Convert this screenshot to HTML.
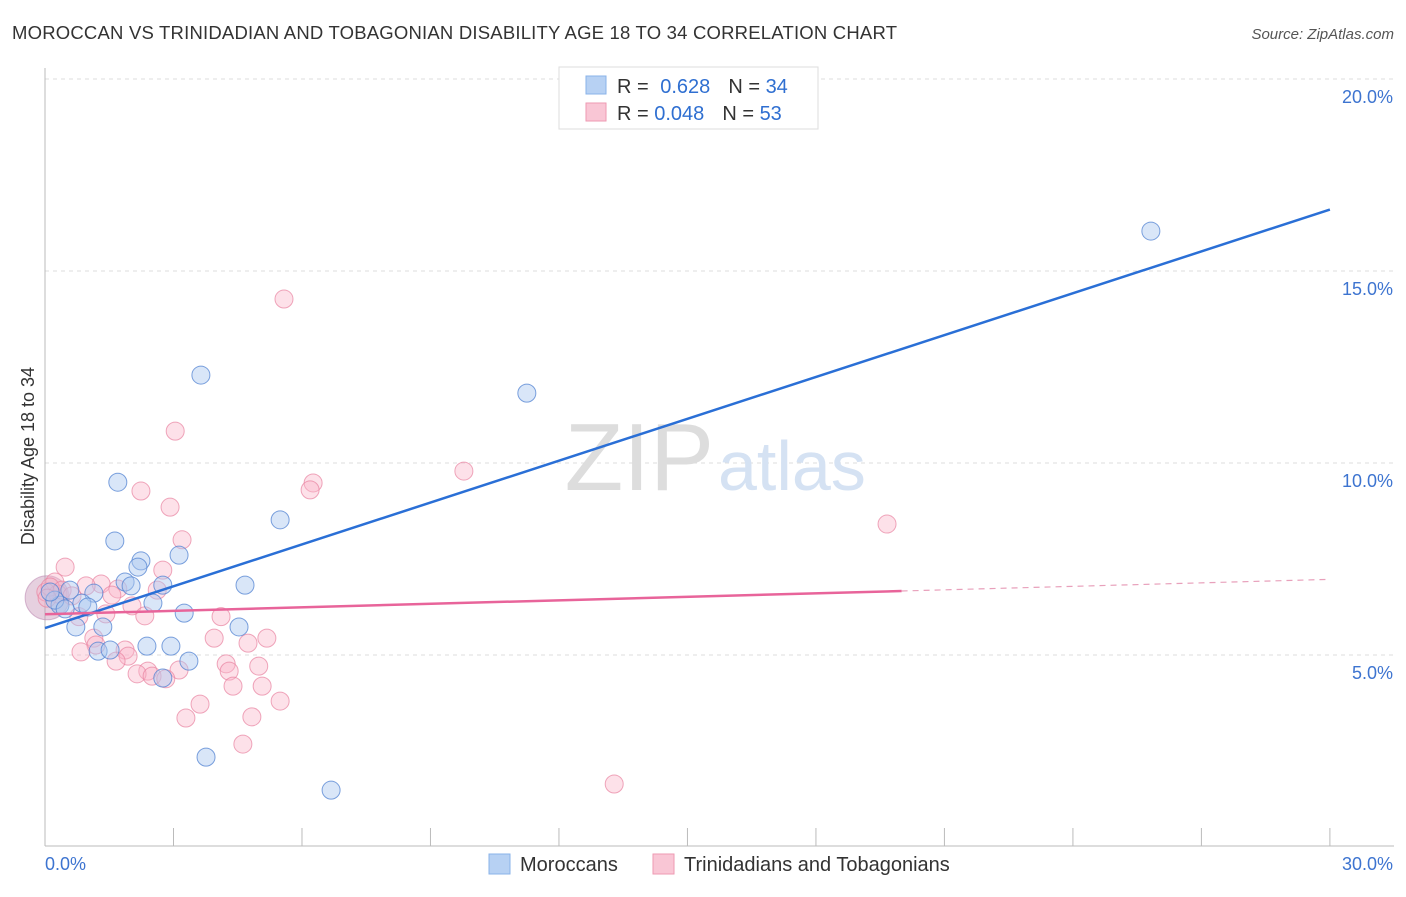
<!DOCTYPE html>
<html><head><meta charset="utf-8"><style>
body{margin:0;background:#fff;font-family:"Liberation Sans",sans-serif}
svg text{font-family:"Liberation Sans",sans-serif}
</style></head><body>
<svg id="chart" width="1406" height="892">
<text x="12" y="39" font-size="18.5" fill="#333" textLength="885">MOROCCAN VS TRINIDADIAN AND TOBAGONIAN DISABILITY AGE 18 TO 34 CORRELATION CHART</text>
<text x="1394" y="39" font-size="15" fill="#555" font-style="italic" text-anchor="end">Source: ZipAtlas.com</text>
<g id="grid"></g>
<text x="714" y="490" font-size="96" fill="#ddd" text-anchor="end" font-family="Liberation Serif">ZIP</text>
<text x="718" y="490" font-size="70" fill="#d5e2f3">atlas</text>
<line x1="45" y1="68" x2="45" y2="846" stroke="#bbb"/>
<line x1="45" y1="846" x2="1394" y2="846" stroke="#bbb"/>
<text transform="translate(34,456) rotate(-90)" font-size="18" fill="#333" text-anchor="middle">Disability Age 18 to 34</text>
<g id="marks"></g>
<g>
<rect x="559" y="67" width="259" height="62" fill="#fff" stroke="#ddd"/>
<rect x="586" y="76" width="20" height="18" fill="#b7d1f3" stroke="#8ab3e8"/>
<rect x="586" y="103" width="20" height="18" fill="#f9c6d5" stroke="#ee9ab2"/>
<text x="617" y="93" font-size="20" fill="#333">R = <tspan fill="#2f6fd1" dx="6">0.628</tspan><tspan dx="18" fill="#333">N = </tspan><tspan fill="#2f6fd1">34</tspan></text>
<text x="617" y="120" font-size="20" fill="#333">R = <tspan fill="#2f6fd1">0.048</tspan><tspan dx="18" fill="#333">N = </tspan><tspan fill="#2f6fd1">53</tspan></text>
</g>
<g>
<rect x="489" y="854" width="21" height="20" fill="#b7d1f3" stroke="#8ab3e8"/>
<text x="520" y="871" font-size="20" fill="#333">Moroccans</text>
<rect x="653" y="854" width="21" height="20" fill="#f9c6d5" stroke="#ee9ab2"/>
<text x="684" y="871" font-size="20" fill="#333">Trinidadians and Tobagonians</text>
</g>
</svg>
<script>
const yTicks=[5,10,15,20];
const yTickLabels=["5.0%","10.0%","15.0%","20.0%"];
const xTickLabels=["0.0%","30.0%"];
const blueX=[25.82,3.64,11.25,1.7,5.49,1.63,2.24,3.13,2.17,1.87,2.75,2.01,4.67,0.58,1.14,2.52,0.86,0.35,1.0,3.25,1.35,0.72,4.53,2.38,2.94,1.24,1.52,3.36,2.75,3.76,6.68,0.23,0.12,0.47];
const blueY=[16.04,12.29,11.82,9.5,8.52,7.97,7.45,7.6,7.29,6.9,6.82,6.8,6.82,6.69,6.61,6.35,6.35,6.3,6.25,6.09,5.73,5.73,5.73,5.23,5.23,5.1,5.13,4.84,4.4,2.34,1.48,6.43,6.64,6.2];
const pinkX=[5.58,3.04,9.78,6.26,6.19,2.24,2.92,19.66,3.2,0.47,2.75,0.23,1.31,0.96,1.7,2.62,1.56,0.02,0.3,2.03,2.33,4.11,0.79,1.42,1.14,1.19,5.18,3.95,4.74,1.87,1.94,0.84,1.66,4.99,2.4,3.13,4.23,4.3,2.15,2.5,2.82,4.39,5.07,3.62,5.49,3.29,4.83,4.62,13.29,0.12,0.4,0.05,0.63];
const pinkY=[14.27,10.83,9.79,9.48,9.3,9.27,8.85,8.41,8.0,7.29,7.21,6.9,6.85,6.8,6.72,6.69,6.56,6.64,6.59,6.28,6.02,6.0,6.0,6.07,5.44,5.26,5.44,5.44,5.31,5.13,4.97,5.08,4.84,4.71,4.58,4.61,4.77,4.58,4.51,4.45,4.38,4.19,4.19,3.72,3.8,3.36,3.39,2.68,1.64,6.77,6.69,6.48,6.54];
const blueTrend=[5.7,16.6];
const pinkTrend=[6.06,6.97];
const pinkSolidEnd=20;
const X=v=>45+v*42.83, Y=v=>847-v*38.4;
const NS="http://www.w3.org/2000/svg";
const grid=document.getElementById('grid'), marks=document.getElementById('marks');
function mk(tag,attrs,parent){const e=document.createElementNS(NS,tag);for(const k in attrs)e.setAttribute(k,attrs[k]);parent.appendChild(e);return e;}
yTicks.forEach((t,i)=>{
  const l=mk('line',{x1:45,x2:1394,y1:Y(t),y2:Y(t),stroke:'#ddd','stroke-dasharray':'4,4'},grid);
  
  
  const tx=mk('text',{x:1393,y:Y(t)+24,'font-size':18,fill:'#3d74d0','text-anchor':'end'},grid);
  tx.textContent=yTickLabels[i];
  
  
});
for(let i=0;i<=10;i++){
  const l=mk('line',{x1:X(i*3),x2:X(i*3),y1:828,y2:846,stroke:'#bbb'},grid);
  
  
}
[[0,45,'start'],[30,1393,'end']].forEach((d,i)=>{
  const tx=mk('text',{x:d[1],y:870,'font-size':18,fill:'#3d74d0','text-anchor':d[2]},grid);
  tx.textContent=xTickLabels[i];
  
  
});
const big=mk('circle',{cx:X(0.05),cy:Y(6.49),r:22,fill:'rgba(200,150,185,0.45)',stroke:'rgba(190,140,180,0.6)'},marks);


pinkX.forEach((x,i)=>{
  const c=mk('circle',{cx:X(x),cy:Y(pinkY[i]),r:9,fill:'rgba(249,180,200,0.4)',stroke:'rgba(232,130,160,0.7)','stroke-width':1},marks);
  
  
});
blueX.forEach((x,i)=>{
  const c=mk('circle',{cx:X(x),cy:Y(blueY[i]),r:9,fill:'rgba(170,200,240,0.45)',stroke:'rgba(80,130,210,0.75)','stroke-width':1},marks);
  
  
});
const bl=mk('line',{x1:X(0),y1:Y(blueTrend[0]),x2:X(30),y2:Y(blueTrend[1]),stroke:'#2a6fd6','stroke-width':2.5},marks);


const pe=pinkTrend[0]+(pinkTrend[1]-pinkTrend[0])*pinkSolidEnd/30;
const pl=mk('line',{x1:X(0),y1:Y(pinkTrend[0]),x2:X(pinkSolidEnd),y2:Y(pe),stroke:'#e8649a','stroke-width':2.5},marks);


const pd=mk('line',{x1:X(pinkSolidEnd),y1:Y(pe),x2:X(30),y2:Y(pinkTrend[1]),stroke:'#e8a0bb','stroke-width':1.2,'stroke-dasharray':'6,5'},marks);


</script>
</body></html>
